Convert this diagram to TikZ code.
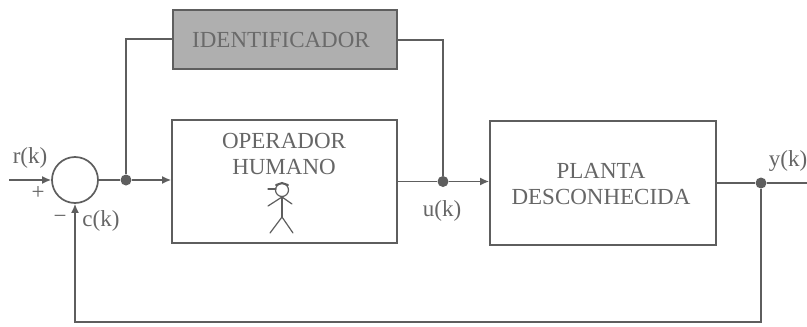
\documentclass[tikz,border=0pt]{standalone}
\usepackage{fontspec}
\setmainfont{Liberation Serif}
\usetikzlibrary{arrows.meta,calc}
\definecolor{ink}{HTML}{5E5E5E}
\definecolor{txt}{HTML}{666666}
\definecolor{boxfill}{HTML}{AFAFAF}
\begin{document}
\begin{tikzpicture}[x=1pt,y=-1pt,
  block/.style={draw=ink,line width=1.7pt,minimum width=#1,inner sep=0pt},
  sumcircle/.style={circle,draw=ink,line width=1.7pt,minimum size=46pt,inner sep=0pt},
  junction/.style={circle,fill=ink,minimum size=11pt,inner sep=0pt},
  wire/.style={draw=ink,line width=1.6pt},
  flow/.style={wire,-{Latex[length=9pt,width=8pt]}},
  lab/.style={text=txt,align=center,font=\fontsize{23}{26}\selectfont,inner sep=0pt},
  stick/.style={draw=ink,line width=1.2pt,line cap=round}]
\useasboundingbox (0,0) rectangle (807,327);
\fill[white] (0,0) rectangle (807,327);
\node[block=224pt,minimum height=59pt,fill=boxfill] (id) at (285,39.5) {};
\node[lab,text=ink!85!boxfill] (idt) at (281,39.5) {IDENTIFICADOR};
\node[block=225pt,minimum height=123pt] (op) at (284.5,181.5) {};
\node[lab] (opt) at (284,154) {OPERADOR\\HUMANO};
\node[block=226pt,minimum height=124pt] (pl) at (603,183) {};
\node[lab] (plt) at (601,184) {PLANTA\\DESCONHECIDA};
\node[sumcircle] (s) at (75,180) {};
\node[junction] (j1) at (126,180) {};
\node[junction] (j2) at (443,181.5) {};
\node[junction] (j3) at (761,183) {};
\coordinate (in) at (9,180);
\coordinate (out) at (807,183);
\coordinate (c1) at (761,322);
\coordinate (c2) at (75,322);
\coordinate (t1) at (126,39);
\coordinate (t2) at (443,40);
\draw[flow] (in) -- (s.west);
\draw[wire] (s.east) -- (j1);
\draw[flow] (j1) -- (op.west |- j1);
\draw[wire] (op.east |- j2) -- (j2);
\draw[flow] (j2) -- (pl.west |- j2);
\draw[wire] (pl.east |- j3) -- (j3);
\draw[wire] (j3) -- (out);
\draw[flow] (j3) -- (c1) -- (c2) -- (s.south);
\draw[wire] (j1) -- (t1) -- (id.west |- t1);
\draw[wire] (j2) -- (t2) -- (id.east |- t2);
\node[lab] (rk) at (30,158) {r(k)};
\node[lab] (pl1) at (38,193) {+};
\node[lab] (mn) at (60,219) {−};
\node[lab] (ck) at (101,221) {c(k)};
\node[lab] (uk) at (442,211) {u(k)};
\node[lab] (yk) at (788,161) {y(k)};
\node[circle,draw=ink,line width=1.2pt,minimum size=13pt,inner sep=0pt] (head) at (282,190) {};
\coordinate (hip) at (282,217);
\draw[stick] (head.south) -- (hip);
\draw[stick] (268,206) -- (282,197) -- (292,204);
\draw[stick] (270,233) -- (hip) -- (293,233);
\draw[stick] (268,189) -- (276,189);
\draw[stick,line width=2pt] (276,185) -- (282,183) -- (288,185);
\end{tikzpicture}
\end{document}
